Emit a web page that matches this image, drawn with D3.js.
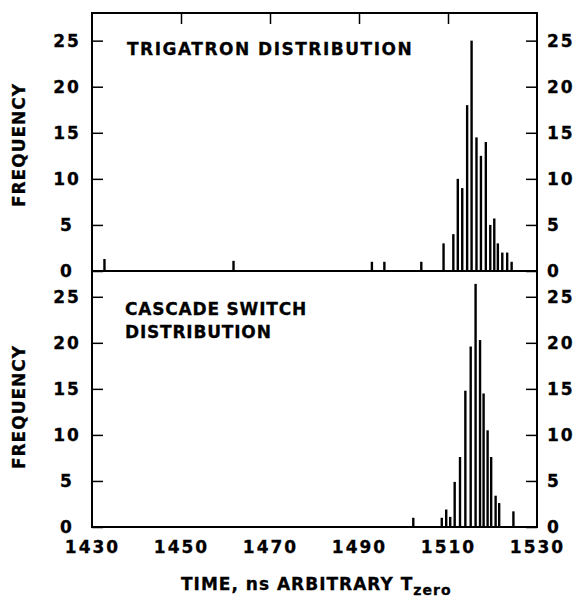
<!DOCTYPE html>
<html>
<head>
<meta charset="utf-8">
<script src="https://cdn.jsdelivr.net/npm/d3@7"></script>
<style>
  body { margin: 0; background: #fff; }
  svg { display: block; }
  text { font-family: "DejaVu Sans", sans-serif; font-weight: bold; fill: #000; stroke: #000; stroke-width: 0.3px; }
</style>
</head>
<body>
<div id="chart"></div>
<script>
// Time bins (ns) and counts.
var trigatronTimes  = [1432.8, 1461.8, 1492.9, 1495.7, 1504.0, 1509.0, 1511.2, 1512.2, 1513.2, 1514.3, 1515.3, 1516.4, 1517.4, 1518.5, 1519.5, 1520.4, 1521.2, 1522.2, 1523.3, 1524.3];
var trigatronCounts = [1.3, 1.1, 1, 1, 1, 3, 4, 10, 9, 18, 25, 14.5, 12.5, 14, 5, 5.7, 3, 2, 2, 1];

var cascadeTimes  = [1502.2, 1508.6, 1509.6, 1510.5, 1511.5, 1512.7, 1513.9, 1515.1, 1516.2, 1517.2, 1518.0, 1518.9, 1519.7, 1520.7, 1521.5, 1524.7];
var cascadeCounts = [1, 1, 1.9, 1.1, 4.9, 7.6, 14.8, 19.6, 26.4, 20.3, 14.5, 10.5, 7.6, 3.4, 2.6, 1.7];

var xTicks = [1430, 1450, 1470, 1490, 1510, 1530];
var xTopTicks = [1450, 1470, 1490, 1510];
var yTicks = [0, 5, 10, 15, 20, 25];

var width = 577, height = 599;
var left = 92, right = 537;
var top1 = 13, mid = 271, bottom2 = 527;

var svg = d3.select('#chart').append('svg')
    .attr('width', width)
    .attr('height', height);

var x = d3.scaleLinear().domain([1430, 1530]).range([left, right]);
var yTop = d3.scaleLinear().domain([0, 28]).range([mid, top1]);
var yBot = d3.scaleLinear().domain([0, 27.8]).range([bottom2, mid]);

function panel(times, counts, y) {
    var g = svg.append('g');

    // Frequency bars (thin vertical strokes).
    g.selectAll('line.bar')
        .data(times.map((t, i) => ({ t: t, v: counts[i] })))
        .enter().append('line')
        .attr('class', 'bar')
        .attr('x1', d => x(d.t)).attr('x2', d => x(d.t))
        .attr('y1', y(0)).attr('y2', d => y(d.v))
        .attr('stroke', '#000')
        .attr('stroke-width', 2.4);

    // Left axis, ticks inward, labels centred.
    var la = g.append('g')
        .attr('transform', 'translate(' + left + ',0)')
        .call(d3.axisLeft(y).tickValues(yTicks).tickSize(-11).tickFormat(d3.format('d')));
    la.select('.domain').remove();
    la.selectAll('.tick line').attr('stroke-width', 1.5);
    la.selectAll('text')
        .attr('x', -25)
        .attr('text-anchor', 'middle')
        .style('font-size', '17px')
        .style('letter-spacing', '2px');

    // Right axis.
    var ra = g.append('g')
        .attr('transform', 'translate(' + right + ',0)')
        .call(d3.axisRight(y).tickValues(yTicks).tickSize(-11).tickPadding(10).tickFormat(d3.format('d')));
    ra.select('.domain').remove();
    ra.selectAll('.tick line').attr('stroke-width', 1.5);
    ra.selectAll('text')
        .attr('x', 10)
        .style('font-size', '17px')
        .style('letter-spacing', '2px');

    return g;
}

panel(trigatronTimes, trigatronCounts, yTop);
panel(cascadeTimes, cascadeCounts, yBot);

// Top ticks on upper frame.
var ta = svg.append('g')
    .attr('transform', 'translate(0,' + top1 + ')')
    .call(d3.axisTop(x).tickValues(xTopTicks).tickSize(-11).tickFormat(''));
ta.select('.domain').remove();
ta.selectAll('.tick line').attr('stroke-width', 1.5);

// Bottom tick labels.
var ba = svg.append('g')
    .attr('transform', 'translate(0,' + bottom2 + ')')
    .call(d3.axisBottom(x).tickValues(xTicks).tickSize(0).tickPadding(14).tickFormat(d3.format('d')));
ba.select('.domain').remove();
ba.selectAll('text')
    .style('font-size', '17px')
    .style('letter-spacing', '2px');

// Frame.
svg.append('rect')
    .attr('x', left).attr('y', top1)
    .attr('width', right - left).attr('height', bottom2 - top1)
    .attr('fill', 'none').attr('stroke', '#000').attr('stroke-width', 2);
svg.append('line')
    .attr('x1', left).attr('x2', right)
    .attr('y1', mid).attr('y2', mid)
    .attr('stroke', '#000').attr('stroke-width', 2.2);

// Panel titles.
svg.append('text')
    .attr('x', 127).attr('y', 55)
    .style('font-size', '17px').style('letter-spacing', '1.5px')
    .text('TRIGATRON DISTRIBUTION');
svg.append('text')
    .attr('x', 125).attr('y', 315)
    .style('font-size', '17px').style('letter-spacing', '0.8px')
    .text('CASCADE SWITCH');
svg.append('text')
    .attr('x', 125).attr('y', 338)
    .style('font-size', '17px').style('letter-spacing', '0.8px')
    .text('DISTRIBUTION');

// Y labels.
[[yTop, 145], [yBot, 407]].forEach(function(p) {
    svg.append('text')
        .attr('transform', 'translate(25,' + p[1] + ') rotate(-90)')
        .attr('text-anchor', 'middle')
        .style('font-size', '17px').style('letter-spacing', '1px')
        .text('FREQUENCY');
});

// X label with subscript.
var xl = svg.append('text')
    .attr('x', 181).attr('y', 590)
    .style('font-size', '17px').style('letter-spacing', '1px');
xl.append('tspan').text('TIME, ns ARBITRARY T');
xl.append('tspan').attr('dy', 5).style('font-size', '14px').text('zero');
</script>
</body>
</html>
